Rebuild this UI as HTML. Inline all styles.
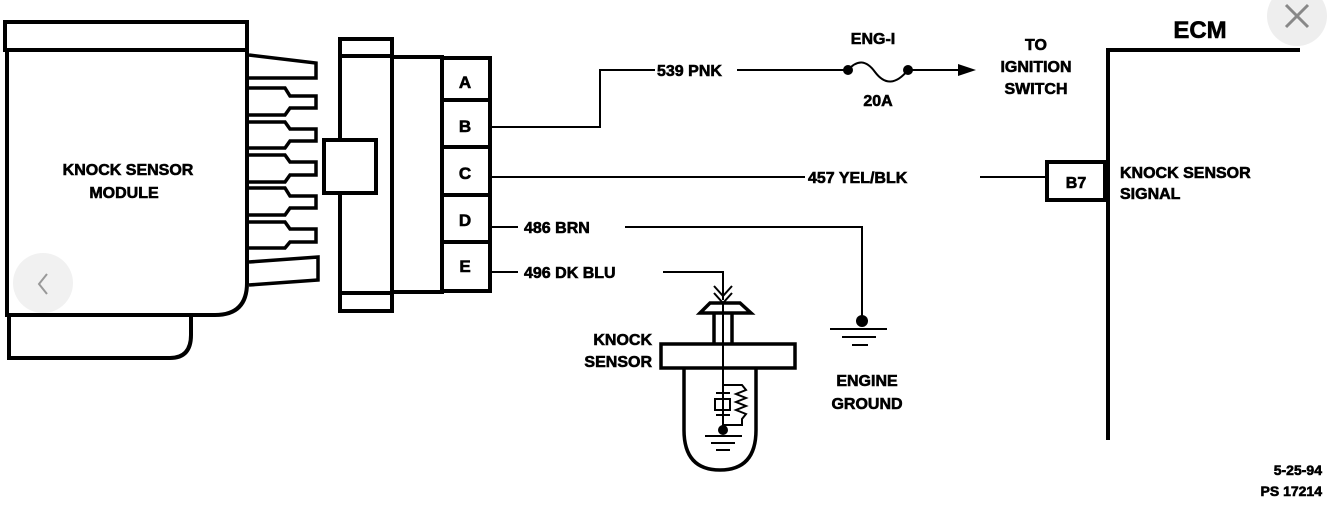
<!DOCTYPE html>
<html><head><style>
html,body{margin:0;padding:0;background:#fff;}
svg{display:block;}
text{font-family:"Liberation Sans",sans-serif;font-weight:bold;fill:#000;stroke:#000;stroke-width:0.6;}
</style></head><body>
<svg width="1332" height="526" viewBox="0 0 1332 526" xmlns="http://www.w3.org/2000/svg">
<g fill="none" stroke="#000" stroke-width="4">
<rect x="5" y="22" width="242" height="28"/>
<path d="M7 50 V315 H215 Q247 315 247 283 V50"/>
<path d="M9 315 V358 H170 Q191 358 191 335 V315"/>
<path d="M249 55 L316 63 V78 H249" stroke-width="3.5"/>
<path d="M249 88 H285 L290 96 H316 V108 H290 L285 115 H249" stroke-width="3.5"/>
<path d="M249 122 H285 L290 129 H316 V141 H290 L285 148 H249" stroke-width="3.5"/>
<path d="M249 155 H285 L290 162 H316 V175 H290 L285 182 H249" stroke-width="3.5"/>
<path d="M249 188 H285 L290 196 H316 V208 H290 L285 215 H249" stroke-width="3.5"/>
<path d="M249 222 H285 L290 229 H316 V242 H290 L285 248 H249" stroke-width="3.5"/>
<path d="M249 262 L318 257 V280 L249 285" stroke-width="3.5"/>
<rect x="340" y="39" width="52" height="272"/>
<line x1="340" y1="56" x2="392" y2="56"/>
<line x1="340" y1="293" x2="392" y2="293"/>
<rect x="392" y="57" width="50" height="235"/>
<rect x="324" y="140" width="52" height="53" fill="#fff"/>
<rect x="442" y="58" width="48" height="233"/>
<line x1="442" y1="100" x2="490" y2="100"/>
<line x1="442" y1="147" x2="490" y2="147"/>
<line x1="442" y1="195" x2="490" y2="195"/>
<line x1="442" y1="242" x2="490" y2="242"/>
</g>
<g font-size="17" text-anchor="middle">
<text x="465" y="88">A</text><text x="465" y="132">B</text><text x="465" y="179">C</text><text x="465" y="226">D</text><text x="465" y="272">E</text>
</g>
<text x="128" y="175" font-size="16" text-anchor="middle">KNOCK SENSOR</text>
<text x="124" y="198" font-size="16" text-anchor="middle">MODULE</text>
<g fill="none" stroke="#000" stroke-width="2">
<path d="M490 127 H600 V70 H655"/>
<path d="M737 70 H848"/>
<path d="M848 70 Q862 54 875 72 Q890 92 908 70"/>
<path d="M908 70 H960"/>
<path d="M490 177 H805"/>
<path d="M980 177 H1047"/>
<path d="M490 227 H518"/><path d="M625 227 H862 V320"/>
<path d="M490 272 H518"/><path d="M663 272 H723 V300"/>
<path d="M714 286 L723 296 L732 286 M714 293 L723 303 L732 293"/>
<path d="M723 303 V430"/>
<path d="M830 329 H887 M842 337 H876 M852 345 H868"/>
<path d="M705 436 H742 M711 443 H735 M716 450 H730"/>
</g>
<polygon points="958,64 976,70 958,76" fill="#000"/>
<circle cx="848" cy="70" r="5"/><circle cx="908" cy="70" r="5"/>
<circle cx="862" cy="321" r="6"/><circle cx="723" cy="430" r="5"/>
<g fill="none" stroke="#000" stroke-width="3.5">
<path d="M700 313 L710 303 H740 L751 313 Z"/>
<line x1="714" y1="313" x2="714" y2="343"/><line x1="732" y1="313" x2="732" y2="343"/>
<rect x="661" y="344" width="134" height="24"/>
<path d="M684 368 V430 Q684 470 720 470 Q756 470 756 430 V368"/>
</g>
<g fill="none" stroke="#000" stroke-width="2">
<path d="M723 385 H742 L746 390 L736 394 L746 398 L736 402 L746 406 L736 410 L746 414 L742 419 V425 H723"/>
<line x1="716" y1="393" x2="730" y2="393"/>
<rect x="715" y="399" width="15" height="11"/>
<line x1="716" y1="415" x2="730" y2="415"/>
</g>
<g fill="none" stroke="#000" stroke-width="4">
<path d="M1108 440 V50 H1300"/>
<rect x="1047" y="162" width="58" height="38"/>
</g>
<text x="1076" y="188" font-size="16" text-anchor="middle">B7</text>
<text x="1200" y="38" font-size="24" text-anchor="middle">ECM</text>
<text x="1120" y="178" font-size="16">KNOCK SENSOR</text>
<text x="1120" y="199" font-size="16">SIGNAL</text>
<g font-size="16">
<text x="657" y="76">539 PNK</text>
<text x="873" y="44" text-anchor="middle">ENG-I</text>
<text x="878" y="106" text-anchor="middle">20A</text>
<text x="1036" y="50" text-anchor="middle">TO</text>
<text x="1036" y="72" text-anchor="middle">IGNITION</text>
<text x="1036" y="94" text-anchor="middle">SWITCH</text>
<text x="808" y="183">457 YEL/BLK</text>
<text x="524" y="233">486 BRN</text>
<text x="524" y="278">496 DK BLU</text>
<text x="652" y="345" text-anchor="end">KNOCK</text>
<text x="652" y="367" text-anchor="end">SENSOR</text>
<text x="867" y="386" text-anchor="middle">ENGINE</text>
<text x="867" y="409" text-anchor="middle">GROUND</text>
</g>
<text x="1322" y="475" font-size="14" text-anchor="end">5-25-94</text>
<text x="1322" y="496" font-size="14" text-anchor="end">PS 17214</text>
<circle cx="1297" cy="16" r="30" fill="#eee"/>
<path d="M1286 5 L1308 27 M1308 5 L1286 27" stroke="#888" stroke-width="3"/>
<circle cx="43" cy="283" r="30" fill="#eee" fill-opacity="0.85"/>
<path d="M47 274 L39 284 L47 294" fill="none" stroke="#999" stroke-width="2"/>
</svg>
</body></html>
